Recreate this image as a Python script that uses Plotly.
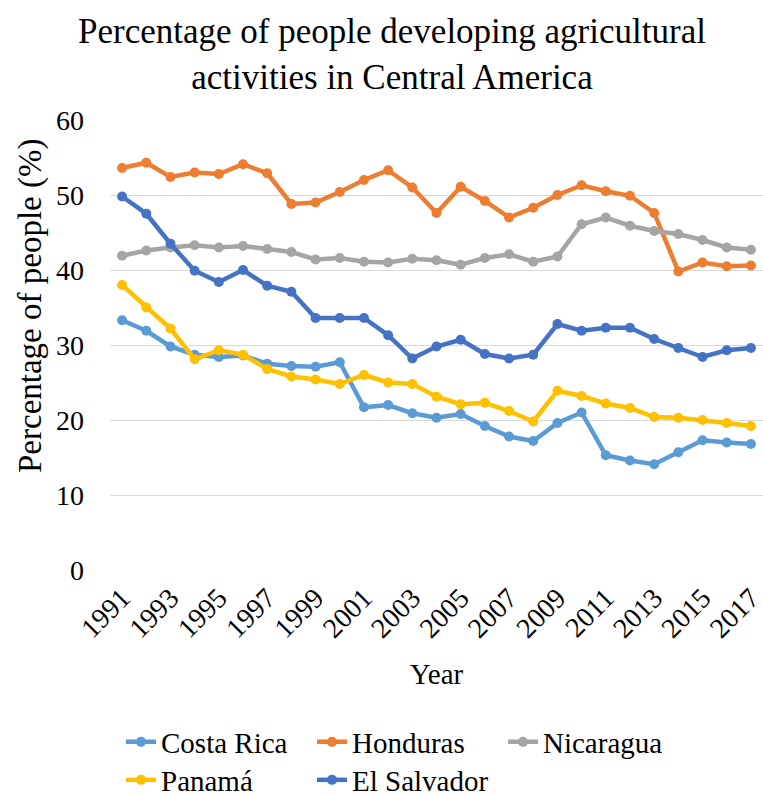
import plotly.graph_objects as go

years = list(range(1991, 2018))
tick_years = list(range(1991, 2018, 2))
tick_labels = [str(y) for y in tick_years]

costa_rica = [33.3, 31.9, 29.8, 28.7, 28.4, 28.6, 27.5, 27.2, 27.1, 27.7,
              21.7, 22.0, 20.9, 20.3, 20.8, 19.2, 17.8, 17.2, 19.6, 21.0,
              15.3, 14.6, 14.1, 15.7, 17.3, 17.0, 16.8]
honduras = [53.6, 54.3, 52.4, 53.0, 52.8, 54.1, 52.9, 48.8, 49.0, 50.4,
            52.0, 53.3, 51.0, 47.6, 51.1, 49.2, 47.0, 48.3, 50.0, 51.3,
            50.5, 49.9, 47.6, 39.8, 41.0, 40.5, 40.6]
nicaragua = [41.9, 42.6, 43.0, 43.3, 43.0, 43.2, 42.8, 42.4, 41.4, 41.6,
             41.1, 41.0, 41.5, 41.3, 40.7, 41.6, 42.1, 41.1, 41.8, 46.1,
             47.0, 45.9, 45.2, 44.8, 44.0, 43.0, 42.7]
panama = [38.0, 35.0, 32.2, 28.1, 29.3, 28.7, 26.8, 25.8, 25.4, 24.8,
          26.0, 25.0, 24.8, 23.1, 22.1, 22.3, 21.2, 19.8, 23.9, 23.2,
          22.2, 21.6, 20.4, 20.3, 20.0, 19.6, 19.2]
el_salvador = [49.8, 47.5, 43.5, 39.9, 38.4, 40.0, 37.9, 37.1, 33.6, 33.6,
               33.6, 31.3, 28.2, 29.8, 30.7, 28.8, 28.2, 28.7, 32.8, 31.9,
               32.3, 32.3, 30.8, 29.6, 28.4, 29.3, 29.6]

series = [
    ("Costa Rica", costa_rica, "#5B9BD5", "legend"),
    ("Honduras", honduras, "#ED7D31", "legend"),
    ("Nicaragua", nicaragua, "#A5A5A5", "legend"),
    ("Panamá", panama, "#FFC000", "legend2"),
    ("El Salvador", el_salvador, "#4472C4", "legend2"),
]

FONT = "Liberation Serif, Times New Roman, serif"
W, H = 763, 796

fig = go.Figure()
for name, vals, color, leg in series:
    fig.add_trace(go.Scatter(
        x=years, y=vals, name=name, mode="lines+markers",
        line=dict(color=color, width=4.5),
        marker=dict(color=color, size=10),
        legend=leg,
    ))

legend_common = dict(
    orientation="h", xref="container", yref="container",
    xanchor="left", yanchor="middle",
    font=dict(family=FONT, size=29, color="#000000"),
    entrywidth=146, entrywidthmode="pixels",
    itemwidth=30, bgcolor="rgba(0,0,0,0)", tracegroupgap=0,
)

fig.update_layout(
    width=W, height=H,
    margin=dict(l=110, r=0, t=120, b=226),
    paper_bgcolor="white", plot_bgcolor="white",
    font=dict(family=FONT, color="#000000"),
    title=dict(
        text="Percentage of people developing agricultural<br>activities in Central America",
        x=392 / W, xanchor="center", xref="container",
        y=1 - 43 / H, yanchor="middle", yref="container",
        font=dict(family=FONT, size=35, color="#000000"),
    ),
    xaxis=dict(
        range=[1990.5, 2017.5], tickmode="array",
        tickvals=tick_years, ticktext=tick_labels, tickangle=-45,
        tickfont=dict(family=FONT, size=28, color="#000000"),
        ticklabeloverflow="allow", ticklabelstandoff=5,
        showgrid=False, zeroline=False, showline=False, ticks="",
        automargin=False,
        title=dict(text="Year", font=dict(family=FONT, size=29), standoff=20),
    ),
    yaxis=dict(
        range=[0, 60], dtick=10,
        tickfont=dict(family=FONT, size=28, color="#000000"),
        gridcolor="#D9D9D9", gridwidth=1, zeroline=False, showline=False,
        ticks="", ticklabelstandoff=25, automargin=False,
    ),
    annotations=[dict(
        text="Percentage of people (%)", textangle=-90,
        xref="paper", yref="paper",
        x=-(110 - 30) / (W - 110), y=(570 - 306) / 450,
        xanchor="center", yanchor="middle", showarrow=False,
        font=dict(family=FONT, size=33, color="#000000"),
    )],
    legend=dict(x=121 / W, y=1 - 742 / H, **legend_common),
    legend2=dict(x=121 / W, y=1 - 780 / H, **legend_common),
)

fig.write_html("out.html")
